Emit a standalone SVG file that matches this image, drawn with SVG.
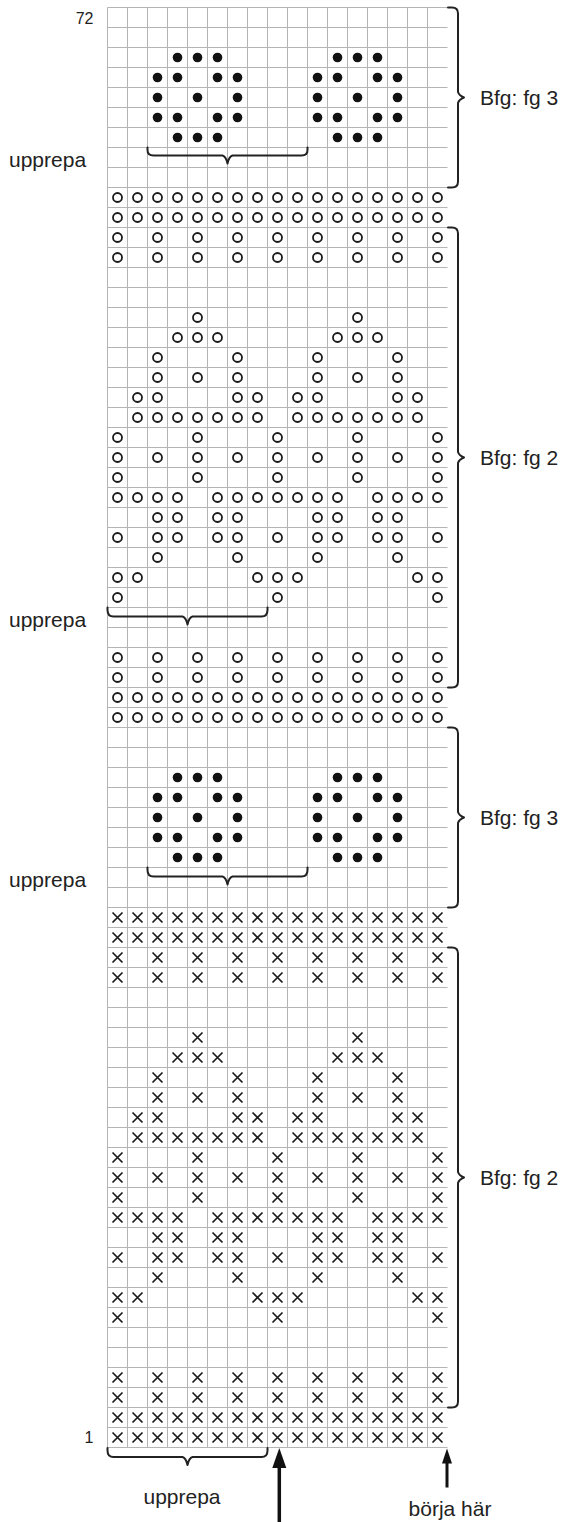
<svg xmlns="http://www.w3.org/2000/svg" width="567" height="1522" viewBox="0 0 567 1522">
<style>
.lbl{font-family:"Liberation Sans",Arial,sans-serif;font-size:21px;fill:#222}
.num{font-family:"Liberation Sans",Arial,sans-serif;font-size:16px;fill:#222}
.br{fill:none;stroke:#222;stroke-width:2;stroke-linejoin:round;stroke-linecap:round}
.grid{fill:none;stroke:#b4b4b4;stroke-width:1}
</style>
<defs>
<circle id="o" r="4.5" fill="none" stroke="#1a1a1a" stroke-width="1.8"/>
<path id="x" d="M-5,-5L5,5M5,-5L-5,5" stroke="#1a1a1a" stroke-width="1.7"/>
<circle id="d" r="4.8" fill="#111"/>
<g id="oAll"><use href="#o" x="117.5"/><use href="#o" x="137.5"/><use href="#o" x="157.5"/><use href="#o" x="177.5"/><use href="#o" x="197.5"/><use href="#o" x="217.5"/><use href="#o" x="237.5"/><use href="#o" x="257.5"/><use href="#o" x="277.5"/><use href="#o" x="297.5"/><use href="#o" x="317.5"/><use href="#o" x="337.5"/><use href="#o" x="357.5"/><use href="#o" x="377.5"/><use href="#o" x="397.5"/><use href="#o" x="417.5"/><use href="#o" x="437.5"/></g>
<g id="oEven"><use href="#o" x="117.5"/><use href="#o" x="157.5"/><use href="#o" x="197.5"/><use href="#o" x="237.5"/><use href="#o" x="277.5"/><use href="#o" x="317.5"/><use href="#o" x="357.5"/><use href="#o" x="397.5"/><use href="#o" x="437.5"/></g>
<g id="xAll"><use href="#x" x="117.5"/><use href="#x" x="137.5"/><use href="#x" x="157.5"/><use href="#x" x="177.5"/><use href="#x" x="197.5"/><use href="#x" x="217.5"/><use href="#x" x="237.5"/><use href="#x" x="257.5"/><use href="#x" x="277.5"/><use href="#x" x="297.5"/><use href="#x" x="317.5"/><use href="#x" x="337.5"/><use href="#x" x="357.5"/><use href="#x" x="377.5"/><use href="#x" x="397.5"/><use href="#x" x="417.5"/><use href="#x" x="437.5"/></g>
<g id="xEven"><use href="#x" x="117.5"/><use href="#x" x="157.5"/><use href="#x" x="197.5"/><use href="#x" x="237.5"/><use href="#x" x="277.5"/><use href="#x" x="317.5"/><use href="#x" x="357.5"/><use href="#x" x="397.5"/><use href="#x" x="437.5"/></g>
<g id="dots">
<g transform="translate(0,57.5)"><use href="#d" x="177.5"/><use href="#d" x="197.5"/><use href="#d" x="217.5"/><use href="#d" x="337.5"/><use href="#d" x="357.5"/><use href="#d" x="377.5"/></g>
<g transform="translate(0,77.5)"><use href="#d" x="157.5"/><use href="#d" x="177.5"/><use href="#d" x="217.5"/><use href="#d" x="237.5"/><use href="#d" x="317.5"/><use href="#d" x="337.5"/><use href="#d" x="377.5"/><use href="#d" x="397.5"/></g>
<g transform="translate(0,97.5)"><use href="#d" x="157.5"/><use href="#d" x="197.5"/><use href="#d" x="237.5"/><use href="#d" x="317.5"/><use href="#d" x="357.5"/><use href="#d" x="397.5"/></g>
<g transform="translate(0,117.5)"><use href="#d" x="157.5"/><use href="#d" x="177.5"/><use href="#d" x="217.5"/><use href="#d" x="237.5"/><use href="#d" x="317.5"/><use href="#d" x="337.5"/><use href="#d" x="377.5"/><use href="#d" x="397.5"/></g>
<g transform="translate(0,137.5)"><use href="#d" x="177.5"/><use href="#d" x="197.5"/><use href="#d" x="217.5"/><use href="#d" x="337.5"/><use href="#d" x="357.5"/><use href="#d" x="377.5"/></g>
</g>
</defs>
<rect width="567" height="1522" fill="#fff"/>
<g id="grid">
<path class="grid" d="M107.5 7.5h340
m-340 20h340m-340 20h340m-340 20h340m-340 20h340m-340 20h340m-340 20h340m-340 20h340m-340 20h340
m-340 20h340m-340 20h340m-340 20h340m-340 20h340m-340 20h340m-340 20h340m-340 20h340m-340 20h340
m-340 20h340m-340 20h340m-340 20h340m-340 20h340m-340 20h340m-340 20h340m-340 20h340m-340 20h340
m-340 20h340m-340 20h340m-340 20h340m-340 20h340m-340 20h340m-340 20h340m-340 20h340m-340 20h340
m-340 20h340m-340 20h340m-340 20h340m-340 20h340m-340 20h340m-340 20h340m-340 20h340m-340 20h340
m-340 20h340m-340 20h340m-340 20h340m-340 20h340m-340 20h340m-340 20h340m-340 20h340m-340 20h340
m-340 20h340m-340 20h340m-340 20h340m-340 20h340m-340 20h340m-340 20h340m-340 20h340m-340 20h340
m-340 20h340m-340 20h340m-340 20h340m-340 20h340m-340 20h340m-340 20h340m-340 20h340m-340 20h340
m-340 20h340m-340 20h340m-340 20h340m-340 20h340m-340 20h340m-340 20h340m-340 20h340m-340 20h340
M107.5 7.5v1440m20-1440v1440m20-1440v1440m20-1440v1440m20-1440v1440m20-1440v1440m20-1440v1440m20-1440v1440m20-1440v1440
m20-1440v1440m20-1440v1440m20-1440v1440m20-1440v1440m20-1440v1440m20-1440v1440m20-1440v1440m20-1440v1440"/>
</g>
<g id="fg3-top"><use href="#dots"/></g>
<g id="fg3-mid"><use href="#dots" y="720"/></g>
<g id="fg2-circles" transform="translate(0,180)">
<use href="#oAll" y="17.5"/><use href="#oAll" y="37.5"/><use href="#oEven" y="57.5"/><use href="#oEven" y="77.5"/>
<g transform="translate(0,137.5)"><use href="#o" x="197.5"/><use href="#o" x="357.5"/></g>
<g transform="translate(0,157.5)"><use href="#o" x="177.5"/><use href="#o" x="197.5"/><use href="#o" x="217.5"/><use href="#o" x="337.5"/><use href="#o" x="357.5"/><use href="#o" x="377.5"/></g>
<g transform="translate(0,177.5)"><use href="#o" x="157.5"/><use href="#o" x="237.5"/><use href="#o" x="317.5"/><use href="#o" x="397.5"/></g>
<g transform="translate(0,197.5)"><use href="#o" x="157.5"/><use href="#o" x="197.5"/><use href="#o" x="237.5"/><use href="#o" x="317.5"/><use href="#o" x="357.5"/><use href="#o" x="397.5"/></g>
<g transform="translate(0,217.5)"><use href="#o" x="137.5"/><use href="#o" x="157.5"/><use href="#o" x="237.5"/><use href="#o" x="257.5"/><use href="#o" x="297.5"/><use href="#o" x="317.5"/><use href="#o" x="397.5"/><use href="#o" x="417.5"/></g>
<g transform="translate(0,237.5)"><use href="#o" x="137.5"/><use href="#o" x="157.5"/><use href="#o" x="177.5"/><use href="#o" x="197.5"/><use href="#o" x="217.5"/><use href="#o" x="237.5"/><use href="#o" x="257.5"/><use href="#o" x="297.5"/><use href="#o" x="317.5"/><use href="#o" x="337.5"/><use href="#o" x="357.5"/><use href="#o" x="377.5"/><use href="#o" x="397.5"/><use href="#o" x="417.5"/></g>
<g transform="translate(0,257.5)"><use href="#o" x="117.5"/><use href="#o" x="197.5"/><use href="#o" x="277.5"/><use href="#o" x="357.5"/><use href="#o" x="437.5"/></g>
<use href="#oEven" y="277.5"/>
<g transform="translate(0,297.5)"><use href="#o" x="117.5"/><use href="#o" x="197.5"/><use href="#o" x="277.5"/><use href="#o" x="357.5"/><use href="#o" x="437.5"/></g>
<g transform="translate(0,317.5)"><use href="#o" x="117.5"/><use href="#o" x="137.5"/><use href="#o" x="157.5"/><use href="#o" x="177.5"/><use href="#o" x="217.5"/><use href="#o" x="237.5"/><use href="#o" x="257.5"/><use href="#o" x="277.5"/><use href="#o" x="297.5"/><use href="#o" x="317.5"/><use href="#o" x="337.5"/><use href="#o" x="377.5"/><use href="#o" x="397.5"/><use href="#o" x="417.5"/><use href="#o" x="437.5"/></g>
<g transform="translate(0,337.5)"><use href="#o" x="157.5"/><use href="#o" x="177.5"/><use href="#o" x="217.5"/><use href="#o" x="237.5"/><use href="#o" x="317.5"/><use href="#o" x="337.5"/><use href="#o" x="377.5"/><use href="#o" x="397.5"/></g>
<g transform="translate(0,357.5)"><use href="#o" x="117.5"/><use href="#o" x="157.5"/><use href="#o" x="177.5"/><use href="#o" x="217.5"/><use href="#o" x="237.5"/><use href="#o" x="277.5"/><use href="#o" x="317.5"/><use href="#o" x="337.5"/><use href="#o" x="377.5"/><use href="#o" x="397.5"/><use href="#o" x="437.5"/></g>
<g transform="translate(0,377.5)"><use href="#o" x="157.5"/><use href="#o" x="237.5"/><use href="#o" x="317.5"/><use href="#o" x="397.5"/></g>
<g transform="translate(0,397.5)"><use href="#o" x="117.5"/><use href="#o" x="137.5"/><use href="#o" x="257.5"/><use href="#o" x="277.5"/><use href="#o" x="297.5"/><use href="#o" x="417.5"/><use href="#o" x="437.5"/></g>
<g transform="translate(0,417.5)"><use href="#o" x="117.5"/><use href="#o" x="277.5"/><use href="#o" x="437.5"/></g>
<use href="#oEven" y="477.5"/><use href="#oEven" y="497.5"/><use href="#oAll" y="517.5"/><use href="#oAll" y="537.5"/>
</g>
<g id="fg2-crosses" transform="translate(0,900)">
<use href="#xAll" y="17.5"/><use href="#xAll" y="37.5"/><use href="#xEven" y="57.5"/><use href="#xEven" y="77.5"/>
<g transform="translate(0,137.5)"><use href="#x" x="197.5"/><use href="#x" x="357.5"/></g>
<g transform="translate(0,157.5)"><use href="#x" x="177.5"/><use href="#x" x="197.5"/><use href="#x" x="217.5"/><use href="#x" x="337.5"/><use href="#x" x="357.5"/><use href="#x" x="377.5"/></g>
<g transform="translate(0,177.5)"><use href="#x" x="157.5"/><use href="#x" x="237.5"/><use href="#x" x="317.5"/><use href="#x" x="397.5"/></g>
<g transform="translate(0,197.5)"><use href="#x" x="157.5"/><use href="#x" x="197.5"/><use href="#x" x="237.5"/><use href="#x" x="317.5"/><use href="#x" x="357.5"/><use href="#x" x="397.5"/></g>
<g transform="translate(0,217.5)"><use href="#x" x="137.5"/><use href="#x" x="157.5"/><use href="#x" x="237.5"/><use href="#x" x="257.5"/><use href="#x" x="297.5"/><use href="#x" x="317.5"/><use href="#x" x="397.5"/><use href="#x" x="417.5"/></g>
<g transform="translate(0,237.5)"><use href="#x" x="137.5"/><use href="#x" x="157.5"/><use href="#x" x="177.5"/><use href="#x" x="197.5"/><use href="#x" x="217.5"/><use href="#x" x="237.5"/><use href="#x" x="257.5"/><use href="#x" x="297.5"/><use href="#x" x="317.5"/><use href="#x" x="337.5"/><use href="#x" x="357.5"/><use href="#x" x="377.5"/><use href="#x" x="397.5"/><use href="#x" x="417.5"/></g>
<g transform="translate(0,257.5)"><use href="#x" x="117.5"/><use href="#x" x="197.5"/><use href="#x" x="277.5"/><use href="#x" x="357.5"/><use href="#x" x="437.5"/></g>
<use href="#xEven" y="277.5"/>
<g transform="translate(0,297.5)"><use href="#x" x="117.5"/><use href="#x" x="197.5"/><use href="#x" x="277.5"/><use href="#x" x="357.5"/><use href="#x" x="437.5"/></g>
<g transform="translate(0,317.5)"><use href="#x" x="117.5"/><use href="#x" x="137.5"/><use href="#x" x="157.5"/><use href="#x" x="177.5"/><use href="#x" x="217.5"/><use href="#x" x="237.5"/><use href="#x" x="257.5"/><use href="#x" x="277.5"/><use href="#x" x="297.5"/><use href="#x" x="317.5"/><use href="#x" x="337.5"/><use href="#x" x="377.5"/><use href="#x" x="397.5"/><use href="#x" x="417.5"/><use href="#x" x="437.5"/></g>
<g transform="translate(0,337.5)"><use href="#x" x="157.5"/><use href="#x" x="177.5"/><use href="#x" x="217.5"/><use href="#x" x="237.5"/><use href="#x" x="317.5"/><use href="#x" x="337.5"/><use href="#x" x="377.5"/><use href="#x" x="397.5"/></g>
<g transform="translate(0,357.5)"><use href="#x" x="117.5"/><use href="#x" x="157.5"/><use href="#x" x="177.5"/><use href="#x" x="217.5"/><use href="#x" x="237.5"/><use href="#x" x="277.5"/><use href="#x" x="317.5"/><use href="#x" x="337.5"/><use href="#x" x="377.5"/><use href="#x" x="397.5"/><use href="#x" x="437.5"/></g>
<g transform="translate(0,377.5)"><use href="#x" x="157.5"/><use href="#x" x="237.5"/><use href="#x" x="317.5"/><use href="#x" x="397.5"/></g>
<g transform="translate(0,397.5)"><use href="#x" x="117.5"/><use href="#x" x="137.5"/><use href="#x" x="257.5"/><use href="#x" x="277.5"/><use href="#x" x="297.5"/><use href="#x" x="417.5"/><use href="#x" x="437.5"/></g>
<g transform="translate(0,417.5)"><use href="#x" x="117.5"/><use href="#x" x="277.5"/><use href="#x" x="437.5"/></g>
<use href="#xEven" y="477.5"/><use href="#xEven" y="497.5"/><use href="#xAll" y="517.5"/><use href="#xAll" y="537.5"/>
</g>
<g id="brace-fg3-top"><path class="br" d="M448,7.5H452Q458,7.5 458,13.5V92Q459,95.5 464,97.5Q459,99.5 458,103V181.5Q458,187.5 452,187.5H448"/><text class="lbl" x="480" y="105">Bfg: fg 3</text></g>
<g id="brace-fg2-circles"><path class="br" d="M448,227.5H452Q458,227.5 458,233.5V452Q459,455.5 464,457.5Q459,459.5 458,463V681.5Q458,687.5 452,687.5H448"/><text class="lbl" x="480" y="465">Bfg: fg 2</text></g>
<g id="brace-fg3-mid"><path class="br" d="M448,727.5H452Q458,727.5 458,733.5V812Q459,815.5 464,817.5Q459,819.5 458,823V901.5Q458,907.5 452,907.5H448"/><text class="lbl" x="480" y="825">Bfg: fg 3</text></g>
<g id="brace-fg2-crosses"><path class="br" d="M448,947.5H452Q458,947.5 458,953.5V1172Q459,1175.5 464,1177.5Q459,1179.5 458,1183V1401.5Q458,1407.5 452,1407.5H448"/><text class="lbl" x="480" y="1185">Bfg: fg 2</text></g>
<g id="repeat-top"><path class="br" d="M147.5,147.5V150Q147.5,155.5 153.5,155.5H222.5Q226,156.5 227.5,163.5Q229,156.5 232.5,155.5H301.5Q307.5,155.5 307.5,150V147.5"/><text class="lbl" x="9" y="167">upprepa</text></g>
<g id="repeat-circles"><path class="br" d="M107.5,607.5V610Q107.5,616.5 113.5,616.5H182.5Q186,617.5 187.5,624.5Q189,617.5 192.5,616.5H261.5Q267.5,616.5 267.5,610V607.5"/><text class="lbl" x="9" y="627">upprepa</text></g>
<g id="repeat-mid"><path class="br" d="M147.5,867.5V870Q147.5,876.5 153.5,876.5H222.5Q226,877.5 227.5,884.5Q229,877.5 232.5,876.5H301.5Q307.5,876.5 307.5,870V867.5"/><text class="lbl" x="9" y="887">upprepa</text></g>
<g id="repeat-bottom"><path class="br" d="M107.5,1448V1450.5Q107.5,1457 113.5,1457H182.5Q186,1458 187.5,1465Q189,1458 192.5,1457H261.5Q267.5,1457 267.5,1450.5V1448"/><text class="lbl" x="182" y="1504" text-anchor="middle">upprepa</text></g>
<g id="row-numbers"><text class="num" x="93.5" y="23.5" text-anchor="end">72</text><text class="num" x="93.5" y="1443" text-anchor="end">1</text></g>
<g id="connectors">
<line x1="279.3" y1="1464" x2="279.3" y2="1522" stroke="#111" stroke-width="3.5"/>
<path d="M279.3,1448L286.3,1468L272.3,1468Z" fill="#111"/>
<line x1="447" y1="1460" x2="447" y2="1487.5" stroke="#111" stroke-width="3"/>
<path d="M447,1448.5L452,1463.5L442,1463.5Z" fill="#111"/>
</g>
<g id="start-label"><text class="lbl" x="450" y="1516" text-anchor="middle">börja här</text></g>
</svg>
